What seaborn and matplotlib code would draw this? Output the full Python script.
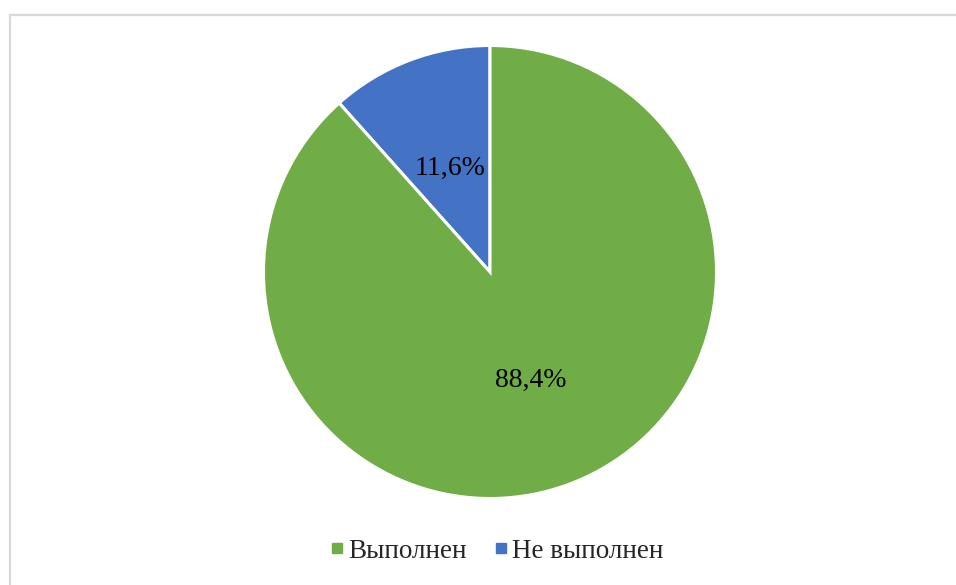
import matplotlib
matplotlib.use("Agg")
import matplotlib.pyplot as plt
from matplotlib.lines import Line2D
from matplotlib.patches import Rectangle
import numpy as np
import seaborn as sns

# Share of completed vs. not completed
categories = ["Не выполнен", "Выполнен"]
shares = [11.6, 88.4]
share_labels = ["11,6%", "88,4%"]
colors = ["#4472C4", "#70AD47"]

sns.set_theme(style="white")
plt.rcParams["font.family"] = ["Liberation Serif", "DejaVu Serif"]

W, H = 956, 585
fig = plt.figure(figsize=(W / 100, H / 100), dpi=100)
fig.patch.set_facecolor("white")

# light frame around the chart area
fig.patches.append(Rectangle((10 / W, -0.05), 1.1, (H - 15) / H + 0.05,
                             transform=fig.transFigure, fill=False,
                             edgecolor="#D9D9D9", linewidth=1.6, zorder=0))

cx, cy, r = 490, H - 272, 226.5
ax = fig.add_axes([(cx - r) / W, (cy - r) / H, 2 * r / W, 2 * r / H])
wedges, _ = ax.pie(shares, colors=colors, startangle=90, counterclock=True,
                   radius=1, wedgeprops=dict(edgecolor="white", linewidth=2.2))
ax.set_xlim(-1, 1)
ax.set_ylim(-1, 1)
ax.axis("off")

for w, lab, dist in zip(wedges, share_labels, [0.49, 0.51]):
    mid = np.deg2rad((w.theta1 + w.theta2) / 2)
    ax.text(dist * np.cos(mid), dist * np.sin(mid), lab,
            ha="center", va="center", fontsize=20, color="black")

order = [1, 0]
handles = [Line2D([], [], marker="s", linestyle="none", markersize=7,
                  markerfacecolor=colors[i], markeredgecolor=colors[i])
           for i in order]
fig.legend(handles, [categories[i] for i in order], loc="center",
           bbox_to_anchor=(496 / W, (H - 551) / H), ncol=2, frameon=False,
           fontsize=19.5, handletextpad=0.12, columnspacing=0.95,
           handlelength=0.6)

fig.savefig("out.png", dpi=100)
